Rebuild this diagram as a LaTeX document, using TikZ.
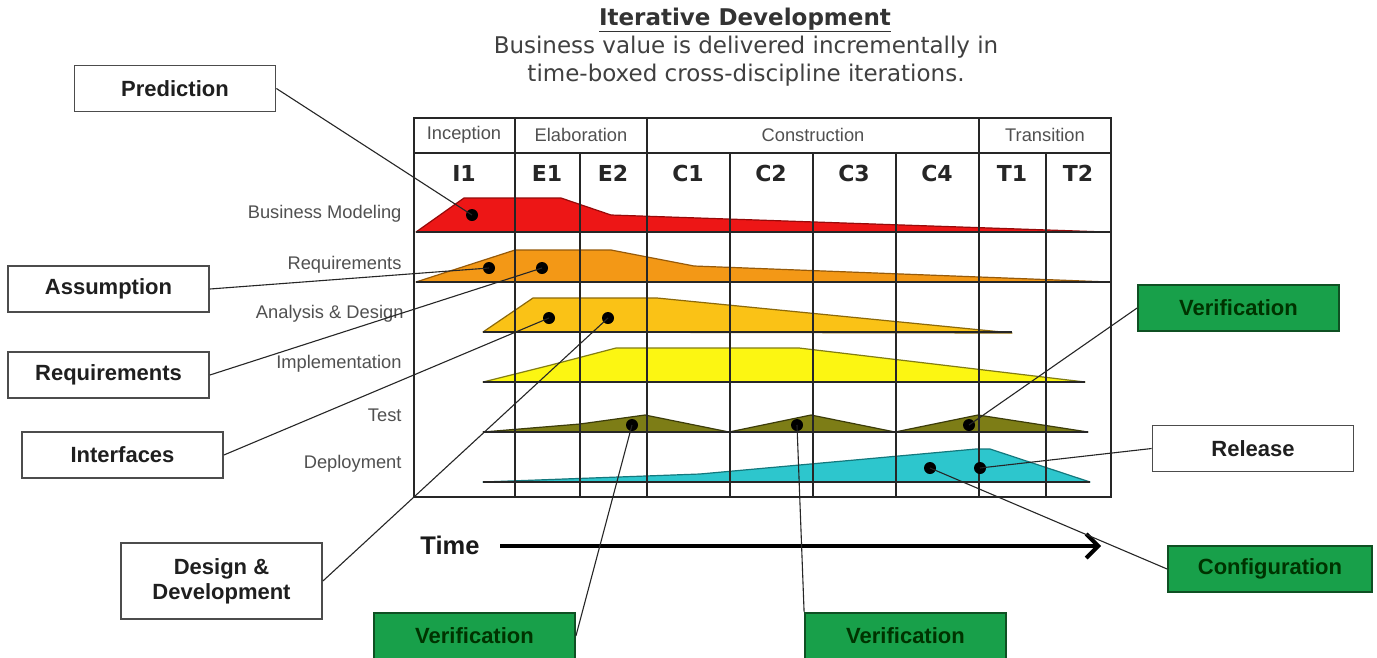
\documentclass[tikz,border=0pt]{standalone}
\usepackage{fontspec}
\setmainfont{Liberation Sans}
\newfontfamily\verd{DejaVu Sans}
\usetikzlibrary{arrows.meta}

\definecolor{bmred}{RGB}{237,22,22}
\definecolor{bmline}{RGB}{150,10,10}
\definecolor{rqorange}{RGB}{243,152,22}
\definecolor{rqline}{RGB}{150,90,10}
\definecolor{adgold}{RGB}{250,194,22}
\definecolor{adline}{RGB}{140,105,10}
\definecolor{imyellow}{RGB}{252,246,18}
\definecolor{imline}{RGB}{130,125,20}
\definecolor{tsolive}{RGB}{125,125,22}
\definecolor{tsline}{RGB}{60,60,10}
\definecolor{dpcyan}{RGB}{45,198,205}
\definecolor{dpline}{RGB}{20,120,125}
\definecolor{vgreen}{RGB}{24,160,74}
\definecolor{vgreenline}{RGB}{15,80,35}
\definecolor{labelgray}{RGB}{80,80,80}

\tikzset{
  lbl/.style={draw=black!70, line width=1.8pt, fill=white, text=black!88,
    font=\fontsize{22}{25}\selectfont\bfseries,
    minimum width=201pt, minimum height=46pt, inner sep=0pt, align=center},
  grn/.style={lbl, fill=vgreen, draw=vgreenline, text=black!80!green},
  dot/.style={circle, fill=black, inner sep=0pt, minimum size=12pt},
  link/.style={line width=1.1pt, draw=black!85},
  rowlbl/.style={anchor=east, text=labelgray, font=\fontsize{18.3}{20}\selectfont},
  phase/.style={text=labelgray, font=\fontsize{18.3}{20}\selectfont},
  iter/.style={text=black!85, font=\verd\bfseries\fontsize{22}{24}\selectfont},
  gridline/.style={line width=1.6pt, draw=black!85},
  band/.style={line width=1.2pt, line join=round},
  base/.style={line width=1.6pt, draw=black!85}
}

\begin{document}
\begin{tikzpicture}[x=1pt,y=-1pt]
\useasboundingbox (0,0) rectangle (1377,657);
\fill[white] (0,0) rectangle (1377,657);

% heading
\node[text=black!80, font=\verd\bfseries\fontsize{23}{26}\selectfont] (title) at (745,20) {\underline{Iterative Development}};
\node[text=black!75, align=center, font=\verd\fontsize{23}{27.5}\selectfont] (subtitle) at (746,61)
  {Business value is delivered incrementally in\\time-boxed cross-discipline iterations.};

% discipline workload profiles
\filldraw[band, fill=bmred, draw=bmline] (416,232) -- (464,198) -- (561,198) -- (611,215) -- (1106,232) -- cycle;
\draw[base] (416,232) -- (1110,232);
\filldraw[band, fill=rqorange, draw=rqline] (416,282) -- (515,250) -- (611,250) -- (694,266) -- (1109,282) -- cycle;
\draw[base] (416,282) -- (1110,282);
\filldraw[band, fill=adgold, draw=adline] (483,332) -- (533,298) -- (657,298) -- (1012,333) -- cycle;
\draw[base] (483,332) -- (1012,332);
\filldraw[band, fill=imyellow, draw=imline] (483,382) -- (551,365) -- (616,348) -- (799,348) -- (1085,382) -- cycle;
\draw[base] (483,382) -- (1085,382);
\filldraw[band, fill=tsolive, draw=tsline] (483,432) -- (580,424) -- (645,415) -- (729,432) -- (811,415) -- (895,432) -- (978,415) -- (1088,432) -- cycle;
\draw[base] (483,432) -- (1088,432);
\filldraw[band, fill=dpcyan, draw=dpline] (483,482) -- (700,474) -- (976,449) -- (990,449) -- (1090,482) -- cycle;
\draw[base] (483,482) -- (1090,482);

% phase / iteration grid
\draw[gridline] (414,118) rectangle (1111,497);
\draw[gridline] (414,153) -- (1111,153);
\foreach \gx in {515,647,979} \draw[gridline] (\gx,118) -- (\gx,497);
\foreach \gx in {580,730,813,896,1046} \draw[gridline] (\gx,153) -- (\gx,497);

\node[phase] (phI) at (464,135) {Inception};
\node[phase] (phE) at (581,135) {Elaboration};
\node[phase] (phC) at (813,135) {Construction};
\node[phase] (phT) at (1045,135) {Transition};

\node[iter] (itI1) at (464,173) {I1};
\node[iter] (itE1) at (547,173) {E1};
\node[iter] (itE2) at (613,173) {E2};
\node[iter] (itC1) at (688,173) {C1};
\node[iter] (itC2) at (771,173) {C2};
\node[iter] (itC3) at (854,173) {C3};
\node[iter] (itC4) at (937,173) {C4};
\node[iter] (itT1) at (1012,173) {T1};
\node[iter] (itT2) at (1078,173) {T2};

% discipline names
\node[rowlbl] (rBM) at (405,214) {Business Modeling};
\node[rowlbl] (rRQ) at (405,265) {Requirements};
\node[rowlbl] (rAD) at (407,314) {Analysis \& Design};
\node[rowlbl] (rIM) at (405,364) {Implementation};
\node[rowlbl] (rTS) at (405,415) {Test};
\node[rowlbl] (rDP) at (405,464) {Deployment};

% time axis
\node[text=black!90, font=\bfseries\fontsize{25.5}{27}\selectfont] (time) at (450,545) {Time};
\coordinate (tStart) at (500,546);
\coordinate (tEnd) at (1101,546);
\draw[line width=4pt, -{Straight Barb[length=12pt,width=24pt]}] (tStart) -- (tEnd);

% markers
\node[dot] (dPred) at (472,215) {};
\node[dot] (dAssm) at (489,268) {};
\node[dot] (dReq)  at (542,268) {};
\node[dot] (dIntf) at (549,318) {};
\node[dot] (dDes)  at (608,318) {};
\node[dot] (dVer1) at (632,425) {};
\node[dot] (dVer2) at (797,425) {};
\node[dot] (dVer3) at (969,425) {};
\node[dot] (dConf) at (930,468) {};
\node[dot] (dRel)  at (980,468) {};

% callout boxes
\node[lbl] (bPred) at (175,88.5) {Prediction};
\node[lbl] (bAssm) at (108.5,289) {Assumption};
\node[lbl] (bReq)  at (108.5,375) {Requirements};
\node[lbl] (bIntf) at (122.5,455) {Interfaces};
\node[lbl, minimum height=76pt] (bDes) at (221.5,581) {Design \&\\Development};
\node[grn] (bVer1) at (474.5,636) {Verification};
\node[grn] (bVer2) at (905.5,636) {Verification};
\node[grn] (bVer3) at (1238.5,308) {Verification};
\node[lbl] (bRel)  at (1253,448.5) {Release};
\node[grn, minimum width=204pt] (bConf) at (1270,569) {Configuration};

% callout leaders
\draw[link] (bPred.east) -- (dPred.center);
\draw[link] (bAssm.east) -- (dAssm.center);
\draw[link] (bReq.east)  -- (dReq.center);
\draw[link] (bIntf.east) -- (dIntf.center);
\draw[link] (bDes.east)  -- (dDes.center);
\draw[link] (bVer1.east) -- (dVer1.center);
\draw[link] (bVer2.north west) -- (dVer2.center);
\draw[link] (bVer3.west) -- (dVer3.center);
\draw[link] (bRel.west)  -- (dRel.center);
\draw[link] (bConf.west) -- (dConf.center);
\end{tikzpicture}
\end{document}
